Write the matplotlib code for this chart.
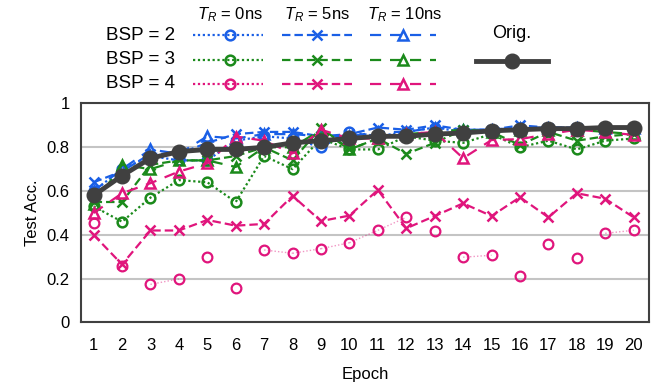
import matplotlib
matplotlib.use("Agg")
import matplotlib.pyplot as plt
import numpy as np

plt.rcParams['font.family'] = ['Liberation Sans', 'DejaVu Sans']
plt.rcParams['mathtext.fontset'] = 'custom'
plt.rcParams['mathtext.rm'] = 'Liberation Sans'
plt.rcParams['mathtext.it'] = 'Liberation Sans:italic'

epochs = list(range(1, 21))
orig = [0.58, 0.67, 0.75, 0.78, 0.79, 0.79, 0.80, 0.82, 0.83, 0.84,
        0.85, 0.85, 0.86, 0.865, 0.875, 0.88, 0.885, 0.885, 0.89, 0.89]
bsp2_tr0 = [0.60, 0.70, 0.76, 0.74, 0.74, 0.83, 0.85, 0.84, 0.80, 0.87,
            0.85, 0.87, 0.89, 0.87, 0.88, 0.89, 0.88, 0.89, 0.89, 0.89]
bsp2_tr5 = [0.64, 0.69, 0.77, 0.77, 0.82, 0.86, 0.87, 0.87, 0.85, 0.86,
            0.89, 0.88, 0.90, 0.88, 0.88, 0.90, 0.89, 0.89, 0.89, 0.89]
bsp2_tr10 = [0.60, 0.70, 0.79, 0.77, 0.85, 0.84, 0.86, 0.86, 0.85, 0.85,
             0.87, 0.87, 0.89, 0.88, 0.88, 0.89, 0.89, 0.89, 0.89, 0.89]
bsp3_tr0 = [0.53, 0.46, 0.57, 0.65, 0.64, 0.55, 0.76, 0.70, 0.84, 0.79,
            0.79, 0.85, 0.83, 0.82, 0.86, 0.80, 0.83, 0.79, 0.83, 0.84]
bsp3_tr5 = [0.55, 0.55, 0.72, 0.74, 0.74, 0.76, 0.80, 0.74, 0.89, 0.79,
            0.84, 0.77, 0.82, 0.88, 0.87, 0.81, 0.87, 0.83, 0.85, 0.86]
bsp3_tr10 = [0.54, 0.72, 0.70, 0.74, 0.74, 0.71, 0.80, 0.80, 0.88, 0.79,
             0.84, 0.86, 0.87, 0.88, 0.87, 0.88, 0.88, 0.88, 0.87, 0.86]
bsp4_tr0 = [0.456, 0.26, 0.174, 0.199, 0.30, 0.156, 0.331, 0.316, 0.337, 0.364,
            0.421, 0.48, 0.416, 0.298, 0.307, 0.214, 0.357, 0.296, 0.407, 0.421]
bsp4_tr5 = [0.40, 0.265, 0.42, 0.42, 0.468, 0.442, 0.45, 0.578, 0.463, 0.488,
            0.605, 0.43, 0.486, 0.544, 0.486, 0.572, 0.48, 0.59, 0.565, 0.48]
bsp4_tr10 = [0.50, 0.59, 0.636, 0.689, 0.727, 0.849, 0.83, 0.772, 0.88, 0.84,
             0.84, 0.86, 0.87, 0.75, 0.833, 0.837, 0.86, 0.88, 0.87, 0.856]
# consecutive epoch pairs whose connecting dotted line is visible for BSP=4, T_R=0ns
bsp4_tr0_links = [(3, 4), (7, 8), (8, 9), (9, 10), (10, 11), (11, 12), (14, 15), (19, 20)]

row_labels = ['BSP = 2', 'BSP = 3', 'BSP = 4']
col_labels = [r'$T_R$ = 0ns', r'$T_R$ = 5ns', r'$T_R$ = 10ns']
yticks = [0, 0.2, 0.4, 0.6, 0.8, 1]
ytick_labels = ['0', '0.2', '0.4', '0.6', '0.8', '1']

BLUE = '#1a5fe6'
GREEN = '#1b8a1b'
PINK = '#e0157c'
GRAY = '#404040'
colors = [BLUE, GREEN, PINK]
markers = ['o', 'x', '^']
styles = [(0, (1, 1.2)), (0, (3.8, 1.8)), (0, (5, 4))]
msizes = [7, 6.5, 7]

data = [[bsp2_tr0, bsp2_tr5, bsp2_tr10],
        [bsp3_tr0, bsp3_tr5, bsp3_tr10],
        [bsp4_tr0, bsp4_tr5, bsp4_tr10]]

fig = plt.figure(figsize=(6.68, 3.87), dpi=100)
ax = fig.add_axes([0.121, 0.1667, 0.851, 0.566])

for ri in range(3):
    for ci in range(3):
        vals = data[ri][ci]
        c = colors[ri]
        if ri == 2 and ci == 0:
            ax.plot(epochs, vals, linestyle='none', marker='o', ms=msizes[0],
                    mfc='none', mec=c, mew=1.6, zorder=3)
            for a, b in bsp4_tr0_links:
                ax.plot([epochs[a - 1], epochs[b - 1]], [vals[a - 1], vals[b - 1]],
                        color=c, lw=1.0, alpha=0.45, linestyle=(0, (1, 1.5)), zorder=2)
        else:
            ax.plot(epochs, vals, color=c, linestyle=styles[ci], lw=1.6,
                    marker=markers[ci], ms=msizes[ci], mfc='none', mec=c,
                    mew=1.8, zorder=3)

ax.plot(epochs, orig, color=GRAY, lw=3.5, marker='o', ms=10.5, mfc=GRAY, mec=GRAY, zorder=5)

ax.set_xlim(0.55, 20.55)
ax.set_ylim(0, 1)
ax.set_xticks(epochs)
ax.set_yticks(yticks)
ax.set_yticklabels(ytick_labels)
ax.tick_params(axis='x', length=0, labelsize=12, pad=11)
ax.tick_params(axis='y', length=0, labelsize=12, pad=8)
ax.yaxis.grid(True, color='#c4c4c4', lw=1.5)
ax.set_axisbelow(True)
for s in ax.spines.values():
    s.set_color('#404040')
    s.set_linewidth(1.5)
ax.set_xlabel('Epoch', fontsize=12, labelpad=10)
ax.set_ylabel('Test Acc.', fontsize=12, labelpad=5)

# manual legend in pixel coordinates
lax = fig.add_axes([0, 0, 1, 1], zorder=-1)
lax.set_xlim(0, 668)
lax.set_ylim(387, 0)
lax.axis('off')
row_y = [35, 60, 84]
col_x = [(193, 230, 263), (282, 317, 352), (370, 403, 436)]
col_cx = [230, 317, 405]
for ci in range(3):
    lax.text(col_cx[ci], 15, col_labels[ci], ha='center', va='center', fontsize=12)
for ri in range(3):
    lax.text(175, row_y[ri], row_labels[ri], ha='right', va='center', fontsize=13.5)
    for ci in range(3):
        x0, xm, x1 = col_x[ci]
        lax.plot([x0, x1], [row_y[ri], row_y[ri]], color=colors[ri],
                 linestyle=styles[ci], lw=1.6)
        lax.plot([xm], [row_y[ri]], linestyle='none', marker=markers[ci],
                 ms=msizes[ci], mfc='white' if ci == 2 else 'none',
                 mec=colors[ri], mew=1.8)
lax.text(512, 33, 'Orig.', ha='center', va='center', fontsize=13)
lax.plot([476, 548], [61, 61], color=GRAY, lw=3.5)
lax.plot([512], [61], marker='o', ms=10.5, color=GRAY)

fig.savefig('out.png', dpi=100)
